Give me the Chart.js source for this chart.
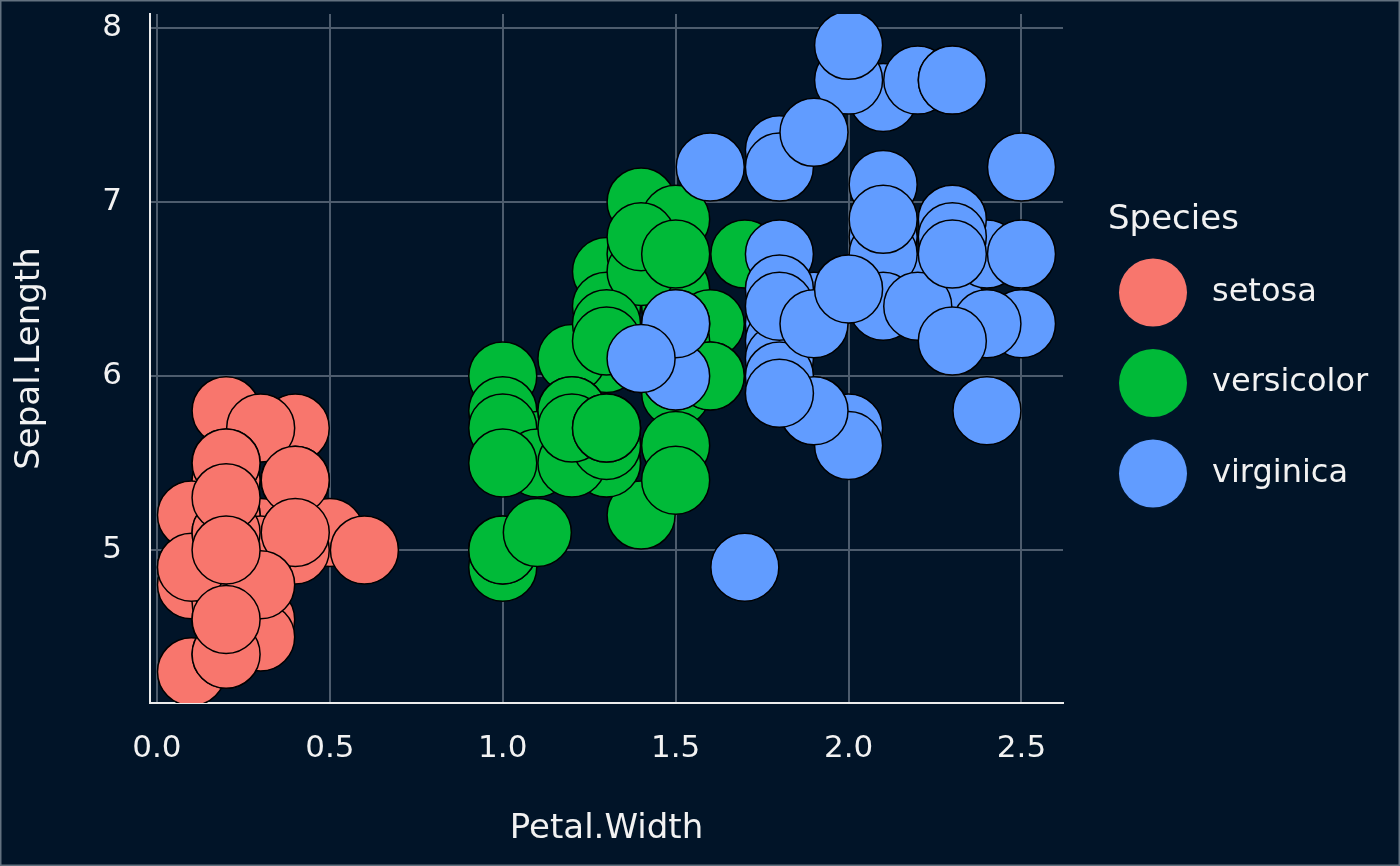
<!DOCTYPE html>
<html>
<head>
<meta charset="utf-8">
<title>Iris scatter</title>
<script src="https://cdn.jsdelivr.net/npm/chart.js@4.4.1/dist/chart.umd.min.js"></script>
<style>
  html, body { margin: 0; padding: 0; background: #011428; }
  canvas { display: block; }
</style>
</head>
<body>
<canvas id="myChart" width="1400" height="866"></canvas>
<script>
// iris: Petal.Width (x) against Sepal.Length (y), one array pair per species
const setosaPetalWidth = [0.2,0.2,0.2,0.2,0.2,0.4,0.3,0.2,0.2,0.1,0.2,0.2,0.1,0.1,0.2,0.4,0.4,0.3,0.3,0.3,
  0.2,0.4,0.2,0.5,0.2,0.2,0.4,0.2,0.2,0.2,0.2,0.4,0.1,0.2,0.2,0.2,0.2,0.1,0.2,0.2,0.3,0.3,0.2,0.6,0.4,0.3,0.2,0.2,0.2,0.2];
const setosaSepalLength = [5.1,4.9,4.7,4.6,5.0,5.4,4.6,5.0,4.4,4.9,5.4,4.8,4.8,4.3,5.8,5.7,5.4,5.1,5.7,5.1,
  5.4,5.1,4.6,5.1,4.8,5.0,5.0,5.2,5.2,4.7,4.8,5.4,5.2,5.5,4.9,5.0,5.5,4.9,4.4,5.1,5.0,4.5,4.4,5.0,5.1,4.8,5.1,4.6,5.3,5.0];

const versicolorPetalWidth = [1.4,1.5,1.5,1.3,1.5,1.3,1.6,1.0,1.3,1.4,1.0,1.5,1.0,1.4,1.3,1.4,1.5,1.0,1.5,1.1,
  1.8,1.3,1.5,1.2,1.3,1.4,1.4,1.7,1.5,1.0,1.1,1.0,1.2,1.6,1.5,1.6,1.5,1.3,1.3,1.3,1.2,1.4,1.2,1.0,1.3,1.2,1.3,1.3,1.1,1.3];
const versicolorSepalLength = [7.0,6.4,6.9,5.5,6.5,5.7,6.3,4.9,6.6,5.2,5.0,5.9,6.0,6.1,5.6,6.7,5.6,5.8,6.2,5.6,
  5.9,6.1,6.3,6.1,6.4,6.6,6.8,6.7,6.0,5.7,5.5,5.5,5.8,6.0,5.4,6.0,6.7,6.3,5.6,5.5,5.5,6.1,5.8,5.0,5.6,5.7,5.7,6.2,5.1,5.7];

const virginicaPetalWidth = [2.5,1.9,2.1,1.8,2.2,2.1,1.7,1.8,1.8,2.5,2.0,1.9,2.1,2.0,2.4,2.3,1.8,2.2,2.3,1.5,
  2.3,2.0,2.0,1.8,2.1,1.8,1.8,1.8,2.1,1.6,1.9,2.0,2.2,1.5,1.4,2.3,2.4,1.8,1.8,2.1,2.4,2.3,1.9,2.3,2.5,2.3,1.9,2.0,2.3,1.8];
const virginicaSepalLength = [6.3,5.8,7.1,6.3,6.5,7.6,4.9,7.3,6.7,7.2,6.5,6.4,6.8,5.7,5.8,6.4,6.5,7.7,7.7,6.0,
  6.9,5.6,7.7,6.3,6.7,7.2,6.2,6.1,6.4,7.2,7.4,7.9,6.4,6.3,6.1,7.7,6.3,6.4,6.0,6.9,6.7,6.9,5.8,6.8,6.7,6.7,6.3,6.5,6.2,5.9];

const species = ["setosa", "versicolor", "virginica"];
const speciesColors = ["#F8766D", "#00BA38", "#619CFF"];
const xTicks = [0, 0.5, 1, 1.5, 2, 2.5];
const yTicks = [5, 6, 7, 8];

const bgColor = "#011428";
const gridColor = "#4d5c6d";
const axisColor = "#ececec";
const textColor = "#f2f2f2";
const fontFamily = "'DejaVu Sans', 'Liberation Sans', sans-serif";

Chart.defaults.font.family = fontFamily;

function toPoints(xs, ys) {
  return xs.map((x, i) => ({ x: x, y: ys[i] }));
}

const seriesX = [setosaPetalWidth, versicolorPetalWidth, virginicaPetalWidth];
const seriesY = [setosaSepalLength, versicolorSepalLength, virginicaSepalLength];

const datasets = species.map((name, i) => ({
  label: name,
  data: toPoints(seriesX[i], seriesY[i]),
  backgroundColor: speciesColors[i],
  borderColor: "#000000",
  borderWidth: 1.5,
  pointRadius: 34,
  pointHoverRadius: 34,
  clip: 0,
  order: species.length - 1 - i   // later species painted on top, like ggplot
}));

// dark panel + thin frame round the picture
const backgroundPlugin = {
  id: "darkBackground",
  beforeDraw(chart) {
    const ctx = chart.ctx;
    ctx.save();
    ctx.fillStyle = bgColor;
    ctx.fillRect(0, 0, chart.width, chart.height);
    ctx.strokeStyle = "#62717f";
    ctx.lineWidth = 1.5;
    ctx.strokeRect(0.75, 0.75, chart.width - 1.5, chart.height - 1.5);
    ctx.restore();
  }
};

// ggplot style legend on the right: title, then big filled keys
const speciesLegend = {
  id: "speciesLegend",
  afterDraw(chart) {
    const ctx = chart.ctx;
    const area = chart.chartArea;
    const mid = (area.top + area.bottom) / 2;
    ctx.save();
    ctx.fillStyle = textColor;
    ctx.font = "34px " + fontFamily;
    ctx.textBaseline = "alphabetic";
    ctx.textAlign = "left";
    ctx.fillText("Species", area.right + 45, mid - 130);
    ctx.font = "32px " + fontFamily;
    ctx.textBaseline = "middle";
    chart.data.datasets.forEach((ds, i) => {
      const cy = mid - 66 + i * 90.5;
      ctx.beginPath();
      ctx.arc(area.right + 90, cy, 34, 0, Math.PI * 2);
      ctx.fillStyle = ds.backgroundColor;
      ctx.fill();
      ctx.fillStyle = textColor;
      ctx.fillText(ds.label, area.right + 149, cy);
    });
    ctx.restore();
  }
};

const config = {
  type: "scatter",
  data: { datasets: datasets },
  options: {
    responsive: false,
    animation: false,
    devicePixelRatio: 1,
    layout: {
      autoPadding: false,
      padding: { top: 14, right: 337, bottom: 0, left: 0 }
    },
    plugins: {
      legend: { display: false },
      tooltip: { enabled: false }
    },
    scales: {
      x: {
        type: "linear",
        min: -0.02,
        max: 2.62,
        afterBuildTicks: s => { s.ticks = xTicks.map(v => ({ value: v })); },
        afterFit: s => { s.height = 163; s.paddingLeft = 0; s.paddingRight = 0; },
        grid: { color: gridColor, lineWidth: 2, drawTicks: false },
        border: { color: axisColor, width: 2 },
        ticks: {
          color: textColor,
          font: { size: 31 },
          padding: 27,
          maxRotation: 0,
          autoSkip: false,
          callback: v => v.toFixed(1)
        },
        title: {
          display: true,
          text: "Petal.Width",
          color: textColor,
          font: { size: 34 },
          padding: { top: 0, bottom: 16 }
        }
      },
      y: {
        type: "linear",
        min: 4.12,
        max: 8.08,
        afterBuildTicks: s => { s.ticks = yTicks.map(v => ({ value: v })); },
        afterFit: s => { s.width = 150; s.paddingTop = 0; s.paddingBottom = 0; },
        grid: { color: gridColor, lineWidth: 2, drawTicks: false },
        border: { color: axisColor, width: 2 },
        ticks: {
          color: textColor,
          font: { size: 31 },
          padding: 28,
          autoSkip: false,
          callback: v => String(v)
        },
        title: {
          display: true,
          text: "Sepal.Length",
          color: textColor,
          font: { size: 34 },
          padding: { top: 10, bottom: 0 }
        }
      }
    }
  },
  plugins: [backgroundPlugin, speciesLegend]
};

const myChart = new Chart(document.getElementById("myChart"), config);
</script>
</body>
</html>
